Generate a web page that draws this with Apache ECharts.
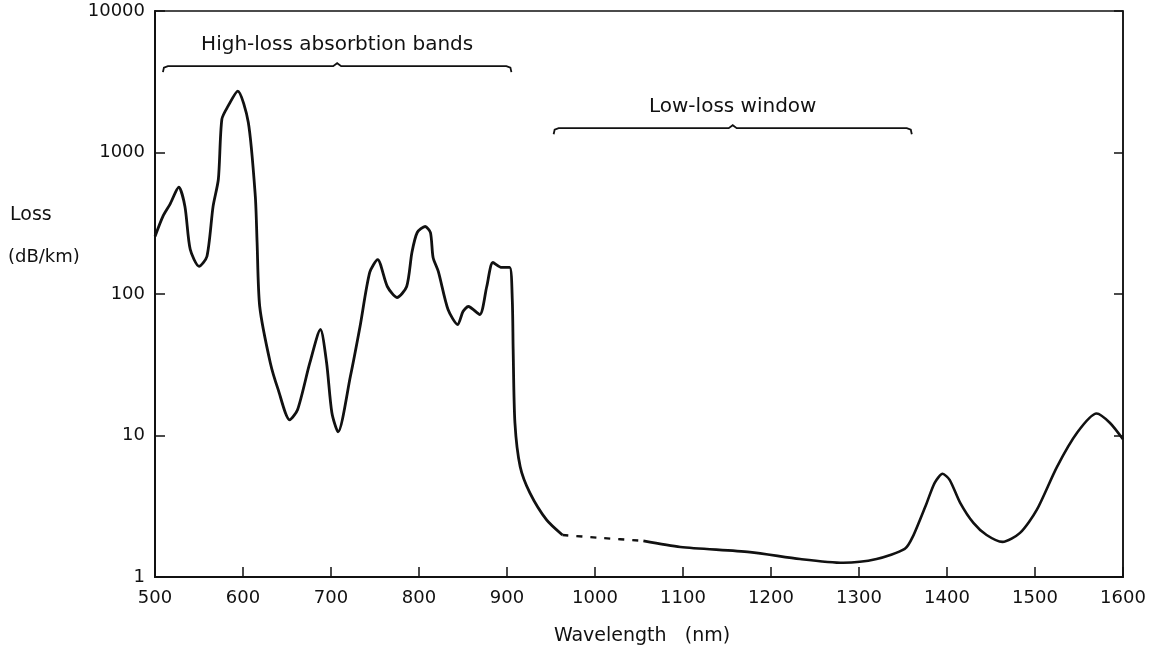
<!DOCTYPE html>
<html>
<head>
<meta charset="utf-8">
<script src="https://cdn.jsdelivr.net/npm/echarts@6/dist/echarts.min.js"></script>
<style>
html,body{margin:0;padding:0;background:#fff;}
#chart{width:1149px;height:655px;}
</style>
</head>
<body>
<div id="chart"></div>
<script>
// Wavelength (nm) and loss (dB/km)
const wlA = [500,509,517,527,534,540,550,559,566,572,576,583,594,606,614,616,619,631,640,653,662,676,688,695,701,708,722,733,744,753,764,775,786,792,798,807,813,816,822,833,844,850,856,869,877,884,894,903,906,907,909,915,926,945,963];
const lossA = [255,354,430,568,416,207,157,184,416,647,1720,2126,2714,1637,490,232,81.6,32.7,21.1,12.9,15.2,32.7,56.1,32.7,14.5,10.6,26.1,58.9,142,175,113,94.5,113,197,272,300,272,181,144,77.7,60.8,75.2,81.6,71.6,113,167,154,154,91.4,40.5,12.3,6.01,3.93,2.53,1.98];
// dashed (interpolated by the author) portion
const wlDash = [963,1006,1055];
const lossDash = [1.98,1.89,1.80];
const wlB = [1055,1097,1176,1233,1282,1320,1352,1361,1377,1386,1395,1403,1415,1430,1445,1463,1483,1502,1525,1548,1570,1585,1600];
const lossB = [1.80,1.63,1.50,1.34,1.26,1.34,1.58,1.92,3.34,4.63,5.36,4.86,3.34,2.41,1.98,1.77,2.05,2.98,6.01,10.5,14.3,12.3,9.4];

const xTicks = [500,600,700,800,900,1000,1100,1200,1300,1400,1500,1600];
const yTicks = [1,10,100,1000,10000];

// annotation brackets: [startNm, endNm, level(dB/km)]
const bracketLabels = ['High-loss absorbtion bands','Low-loss window'];
const bracketStart = [509, 953];
const bracketEnd = [905, 1360];
const bracketLevel = [4075, 1485];

const pairs = (xs, ys) => xs.map((x, i) => [x, ys[i]]);
const FONT = 'DejaVu Sans';
const INK = '#111';

const chart = echarts.init(document.getElementById('chart'));
const lineBase = {type:'line', showSymbol:false, smooth:0.25, silent:true};
chart.setOption({
  animation:false,
  backgroundColor:'#fff',
  grid:{left:155, right:26, top:11, bottom:78, show:true, borderColor:INK, borderWidth:1.5, backgroundColor:'transparent'},
  xAxis:{
    type:'value', min:xTicks[0], max:xTicks[xTicks.length-1], interval:100,
    axisLine:{show:true, lineStyle:{color:INK, width:2}},
    axisTick:{show:true, inside:true, length:10, lineStyle:{color:INK, width:1.5}},
    axisLabel:{color:INK, fontFamily:FONT, fontSize:18, margin:12, formatter:v => String(v)},
    splitLine:{show:false}
  },
  yAxis:[{
    type:'log', logBase:10, min:yTicks[0], max:yTicks[yTicks.length-1],
    axisLine:{show:true, lineStyle:{color:INK, width:2}},
    axisTick:{show:true, inside:true, length:10, lineStyle:{color:INK, width:1.5}},
    axisLabel:{color:INK, fontFamily:FONT, fontSize:18, margin:10, formatter:v => String(Math.round(v))},
    splitLine:{show:false}
  },{
    type:'log', logBase:10, min:yTicks[0], max:yTicks[yTicks.length-1], position:'right',
    axisLine:{show:true, lineStyle:{color:INK, width:1.5}},
    axisTick:{show:true, inside:true, length:9, lineStyle:{color:INK, width:1.5}},
    axisLabel:{show:false},
    splitLine:{show:false}
  }],
  series:[
    Object.assign({}, lineBase, {data:pairs(wlA, lossA), lineStyle:{color:INK, width:2.8}}),
    Object.assign({}, lineBase, {data:pairs(wlDash, lossDash), lineStyle:{color:INK, width:2.4, type:[6,8]}}),
    Object.assign({}, lineBase, {data:pairs(wlB, lossB), lineStyle:{color:INK, width:2.6}})
  ]
});

// annotations positioned through the axes
const g = [];
bracketLabels.forEach((label, i) => {
  const p0 = chart.convertToPixel({gridIndex:0}, [bracketStart[i], bracketLevel[i]]);
  const p1 = chart.convertToPixel({gridIndex:0}, [bracketEnd[i], bracketLevel[i]]);
  const y = p0[1], x0 = p0[0], x1 = p1[0], xm = (x0 + x1) / 2;
  g.push({type:'polyline', shape:{points:[[x0, y+6],[x0+1, y+1.5],[x0+5, y],[xm-4, y],[xm, y-3],[xm+4, y],[x1-5, y],[x1-1, y+1.5],[x1, y+6]]},
    style:{stroke:INK, lineWidth:1.8, fill:null}});
  g.push({type:'text', x:xm, y:y-21, style:{text:label, fontFamily:FONT, fontSize:20, fill:INK, align:'center', verticalAlign:'middle'}});
});
g.push({type:'text', left:10, top:206, style:{text:'Loss', fontFamily:FONT, fontSize:19, fill:INK}});
g.push({type:'text', left:8, top:248, style:{text:'(dB/km)', fontFamily:FONT, fontSize:18, fill:INK}});
g.push({type:'text', x:642, y:636, style:{text:'Wavelength   (nm)', fontFamily:FONT, fontSize:19, fill:INK, align:'center', verticalAlign:'middle'}});
chart.setOption({graphic:g});
</script>
</body>
</html>
